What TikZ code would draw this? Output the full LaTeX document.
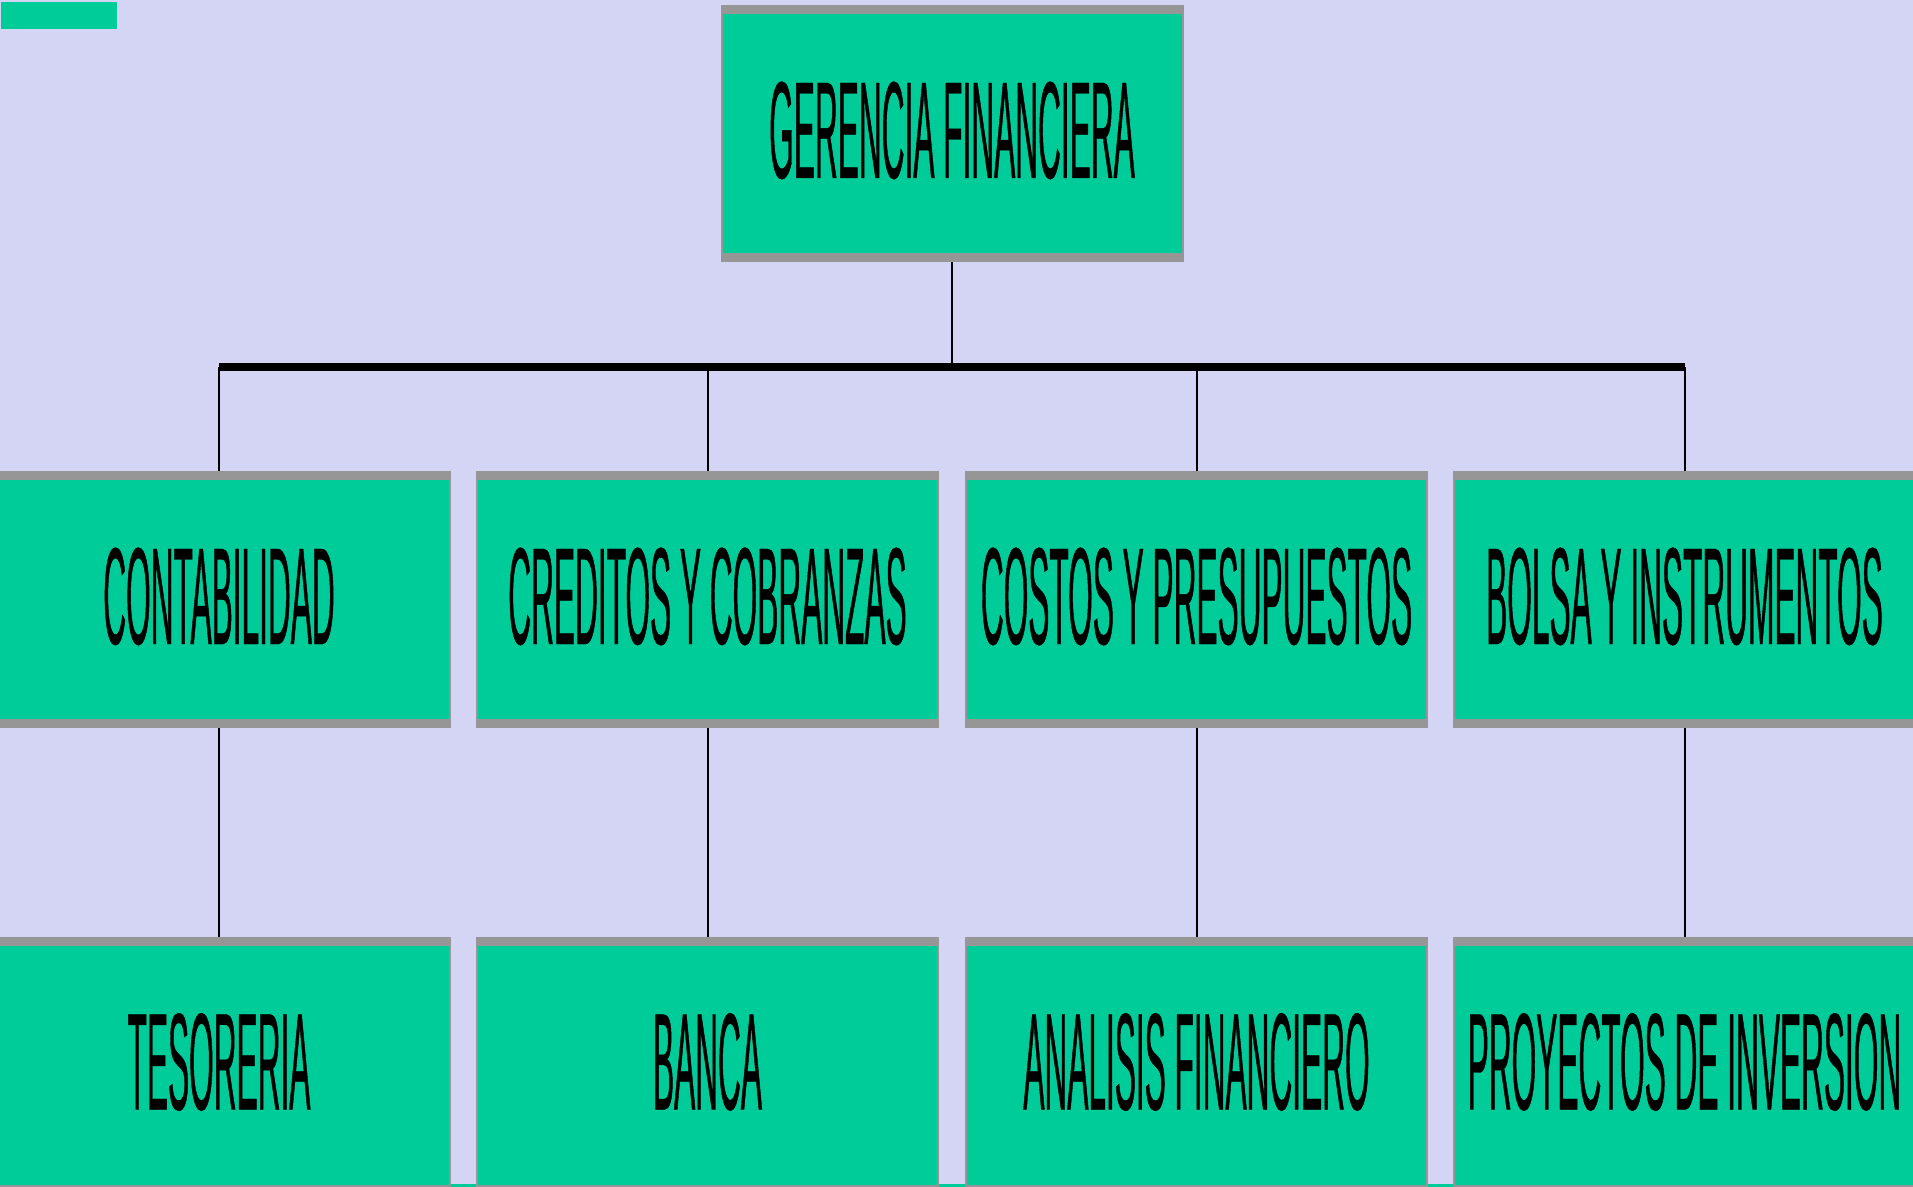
\documentclass[tikz,border=0pt]{standalone}
\usepackage{fontspec}
\newfontfamily\boxfont[FakeStretch=0.229,FakeBold=0.3]{Liberation Sans}
\definecolor{fondo}{RGB}{212,212,244}
\definecolor{verde}{RGB}{0,204,153}
\definecolor{gris}{RGB}{150,150,150}

\begin{document}
\begin{tikzpicture}

        \useasboundingbox (0,0) rectangle (19.13,-11.87);
        \clip (0,0) rectangle (19.13,-11.87);
        \fill[fondo] (0,0) rectangle (19.13,-11.87);
        \fill[verde] (0.01,-0.02) rectangle (1.17,-0.29);
        \fill[verde] (0,-11.84) rectangle (19.13,-11.87);

        \begin{scope}[every node/.style={rectangle, fill=verde, draw=gris, line width=0.02cm,
            minimum width=4.61cm, minimum height=2.55cm, inner sep=0pt,
            text height=1.0cm, text depth=0.12cm,
            font=\boxfont\fontsize{39.3}{42}\selectfont,
            path picture={
              \fill[gris] (path picture bounding box.north west) rectangle ([yshift=-0.08cm]path picture bounding box.north east);
              \fill[gris] (path picture bounding box.south west) rectangle ([yshift=0.08cm]path picture bounding box.south east);}}]
          \node (gerencia)     at (9.52,-1.34)    {GERENCIA FINANCIERA};
          \node (contabilidad) at (2.19,-6.0)     {CONTABILIDAD};
          \node (creditos)     at (7.075,-6.0)    {CREDITOS Y COBRANZAS};
          \node (costos)       at (11.965,-6.0)   {COSTOS Y PRESUPUESTOS};
          \node (bolsa)        at (16.845,-6.0)   {BOLSA Y INSTRUMENTOS};
          \node (tesoreria)    at (2.19,-10.655)  {TESORERIA};
          \node (banca)        at (7.075,-10.655) {BANCA};
          \node (analisis)     at (11.965,-10.655) {ANALISIS FINANCIERO};
          \node (proyectos)    at (16.845,-10.655) {PROYECTOS DE INVERSION};
        \end{scope}

        \coordinate (barizq) at (2.19,-3.67);
        \coordinate (barder) at (16.845,-3.67);
        \draw[line width=0.08cm] (barizq) -- (barder);

        \begin{scope}[every edge/.style={draw, line width=0.02cm}]
          \path (gerencia) edge (gerencia |- barizq);
          \path (contabilidad |- barizq) edge (contabilidad);
          \path (creditos |- barizq) edge (creditos);
          \path (costos |- barizq) edge (costos);
          \path (bolsa |- barizq) edge (bolsa);
          \path (contabilidad) edge (tesoreria);
          \path (creditos) edge (banca);
          \path (costos) edge (analisis);
          \path (bolsa) edge (proyectos);
        \end{scope}

      \end{tikzpicture}
\end{document}
